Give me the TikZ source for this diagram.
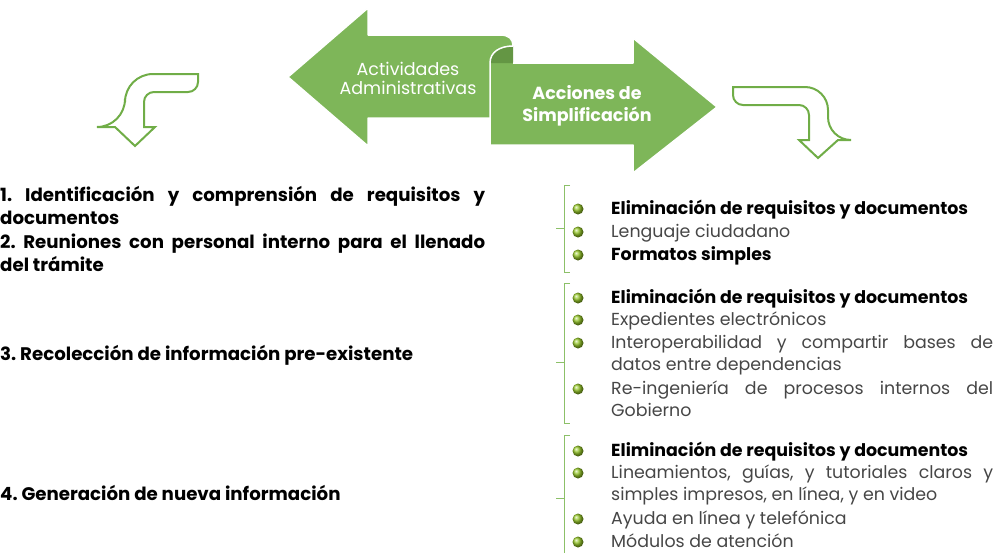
\documentclass[tikz,border=0pt]{standalone}
\usepackage{fontspec}
\setmainfont{Poppins}
\definecolor{arrowgreen}{RGB}{126,182,89}
\definecolor{foldgreen}{RGB}{100,150,68}
\definecolor{linegreen}{RGB}{112,173,71}
\definecolor{bracegreen}{RGB}{140,192,104}
\definecolor{bulletgreen}{RGB}{150,200,40}
\definecolor{textgray}{RGB}{70,70,70}
\frenchspacing
\hyphenpenalty=10000

\begin{document}
\begin{tikzpicture}[
  x=1pt, y=-1pt,
  ribbon/.style={fill=arrowgreen},
  ribbonedge/.style={draw=white, line width=1.5pt, line join=round},
  bentarrow/.style={draw=linegreen, line width=2pt},
  brace/.style={draw=bracegreen, line width=1pt},
  steptext/.style={
    anchor=base west,
    inner sep=0pt,
    text width=485pt,
    align=justify,
    font=\fontsize{18.2}{23.5}\selectfont\bfseries
  },
  action/.style={
    anchor=base west,
    inner sep=0pt,
    text width=382pt,
    align=justify,
    text=textgray,
    font=\fontsize{17.4}{22.7}\selectfont
  },
  keyaction/.style={action, text=black, font=\fontsize{17.4}{22.7}\selectfont\bfseries},
  bulletdot/.style={circle, inner sep=0pt, minimum size=11pt, ball color=bulletgreen}
]
  \useasboundingbox (0,0) rectangle (995,552);

  % ribbon arrows
  \path[ribbon] (288,77) -- (368,8) -- (368,35) -- (500,35)
    .. controls (509,35) and (513,39) .. (513,46) -- (513,118) -- (368,118) -- (368,146) -- cycle;
  \draw[ribbonedge] (513,46) -- (513,118) -- (368,118) -- (368,146) -- (288,77) -- (368,8)
    -- (368,35) -- (500,35) .. controls (509,35) and (513,39) .. (513,46);
  \path[ribbon] (490,145) -- (490,63) -- (633,63) -- (633,38) -- (717,107) -- (633,173)
    -- (633,145) -- cycle;
  \fill[foldgreen] (490,63) .. controls (490,52) and (500,46) .. (513,46) -- (513,63) -- cycle;
  \draw[ribbonedge] (513,63) -- (633,63) -- (633,38) -- (717,107) -- (633,173) -- (633,145)
    -- (490,145) -- (490,63) .. controls (490,52) and (500,46) .. (513,46);

  \node[text=white, align=center, font=\fontsize{17.5}{19}\selectfont] (admin) at (408,78)
    {Actividades\\Administrativas};
  \node[text=white, align=center, font=\fontsize{17.5}{22}\selectfont\bfseries] (simpl) at (587,106)
    {Acciones de\\Simplificación};

  % bent arrows
  \draw[bentarrow] (198,74) [rounded corners=28pt]-- (125,74) -- (125,127) [sharp corners]-- (115,127)
    -- (135,146) -- (155,127) -- (144,127) [rounded corners=10pt]-- (144,92) -- (198,92) [sharp corners]-- cycle;
  \draw[bentarrow] (733,87) [rounded corners=23pt]-- (828,87) -- (828,140) [sharp corners]-- (838,140)
    -- (818,158) -- (799,140) -- (809,140) [rounded corners=10pt]-- (809,105) -- (733,105) [sharp corners]-- cycle;

  % administrative steps
  \node[steptext] (step12) at (0,201)
    {1. Identificación y comprensión de requisitos y\linebreak documentos\\
     2. Reuniones con personal interno para el llenado\linebreak del trámite};
  \node[steptext] (step3) at (0,360) {3. Recolección de información pre-existente};
  \node[steptext] (step4) at (0,500) {4. Generación de nueva información};

  % brackets
  \draw[brace] (570,185) -- (564,185) -- (564,272) -- (570,272) (564,228) -- (556,228);
  \draw[brace] (570,283) -- (564,283) -- (564,423) -- (570,423) (564,362) -- (556,362);
  \draw[brace] (570,435) -- (564,435) -- (564,560) (564,498) -- (556,498);

  % first group
  \node[keyaction] (a1) at (611,214) {Eliminación de requisitos y documentos};
  \node[action] (a2) at (611,237) {Lenguaje ciudadano};
  \node[keyaction] (a3) at (611,260) {Formatos simples};

  % second group
  \node[keyaction] (b1) at (611,303) {Eliminación de requisitos y documentos};
  \node[action] (b2) at (611,325) {Expedientes electrónicos};
  \node[action] (b3) at (611,348) {Interoperabilidad y compartir bases de\linebreak datos entre dependencias};
  \node[action] (b4) at (611,394) {Re-ingeniería de procesos internos del\linebreak Gobierno};

  % third group
  \node[keyaction] (c1) at (611,456) {Eliminación de requisitos y documentos};
  \node[action] (c2) at (611,478) {Lineamientos, guías, y tutoriales claros y\linebreak simples impresos, en línea, y en video};
  \node[action] (c3) at (611,524) {Ayuda en línea y telefónica};
  \node[action] (c4) at (611,547) {Módulos de atención};

  \foreach \n in {a1,a2,a3,b1,b2,b3,b4,c1,c2,c3,c4}
    \node[bulletdot] at ([xshift=-33pt, yshift=5pt]\n.base west) {};
\end{tikzpicture}
\end{document}
